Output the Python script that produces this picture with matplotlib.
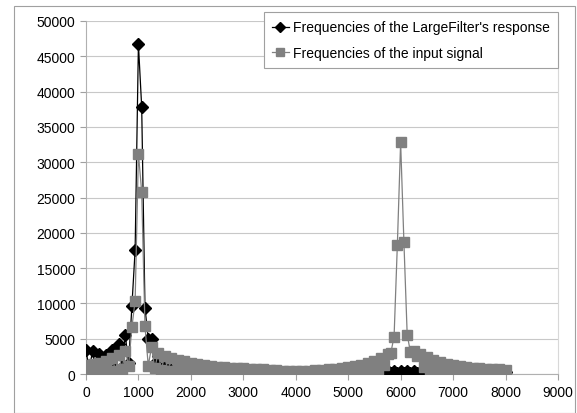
import numpy as np
import matplotlib
matplotlib.use("Agg")
import matplotlib.pyplot as plt
from matplotlib.patches import Rectangle

plt.rcParams["font.family"] = ["Liberation Sans", "DejaVu Sans"]

# FFT bins, 62.5 Hz apart (0 .. 8000 Hz)
freqs = np.arange(0, 8000.1, 62.5)

# magnitude of the LargeFilter's response
response = [
    3400, 600, 3300, 500, 2900, 500, 2700, 600, 3400, 800,
    4300, 1000, 5500, 1500, 9600, 17600, 46700, 37800, 9400, 5000,
    5000, 1500, 2500, 500, 1200, 200, 600, 150, 300, 100,
    200, 80, 150, 60, 120, 50, 100, 40, 80, 30,
    60, 30, 50, 20, 40, 20, 40, 20, 40, 20,
    40, 20, 40, 20, 40, 20, 50, 20, 50, 20,
    50, 20, 60, 20, 60, 20, 80, 30, 100, 30,
    120, 30, 150, 40, 180, 50, 200, 60, 250, 60,
    300, 80, 350, 100, 600, 150, 400, 100, 300, 100,
    350, 100, 400, 150, 450, 200, 500, 200, 450, 150,
    400, 100, 250, 80, 200, 60, 500, 60, 150, 50,
    120, 40, 300, 40, 100, 30, 100, 30, 300, 30,
    80, 30, 80, 30, 300, 30, 80, 30, 300,
]

# magnitude of the input signal
signal = [
    1300, 300, 1400, 200, 1600, 300, 1900, 400, 2300, 500,
    2700, 700, 3300, 1200, 6600, 10400, 31200, 25800, 6800, 1200,
    3800, 800, 3000, 600, 2600, 500, 2300, 400, 2000, 350,
    1800, 300, 1600, 250, 1450, 200, 1300, 200, 1150, 150,
    1050, 150, 950, 120, 900, 100, 850, 100, 800, 100,
    750, 100, 700, 100, 650, 100, 600, 100, 550, 100,
    500, 100, 450, 100, 450, 100, 450, 100, 500, 100,
    550, 100, 600, 120, 650, 150, 750, 180, 850, 200,
    950, 250, 1100, 300, 1300, 350, 1550, 400, 1800, 600,
    2300, 1300, 2900, 3000, 5300, 18300, 32800, 18700, 5600, 3100,
    3300, 2500, 2900, 1000, 2400, 400, 2000, 300, 1700, 250,
    1450, 220, 1250, 200, 1100, 180, 1000, 160, 900, 150,
    800, 140, 750, 130, 700, 120, 650, 110, 600,
]

labels = ["Frequencies of the LargeFilter's response",
          "Frequencies of the input signal"]

fig = plt.figure(figsize=(5.77, 4.14), dpi=100)
ax = fig.add_axes([0.149, 0.094, 0.818, 0.853])

ax.plot(freqs, response, color="black", lw=0.9, marker="D", markersize=6.5,
        label=labels[0], zorder=3)
ax.plot(freqs, signal, color="#808080", lw=0.9, marker="s", markersize=7,
        label=labels[1], zorder=4)

ax.set_xlim(0, 9000)
ax.set_ylim(0, 50000)
ax.set_xticks(range(0, 9001, 1000))
ax.set_yticks(range(0, 50001, 5000))
ax.tick_params(labelsize=10, labelcolor="black", length=4, width=0.8,
               color="#a0a0a0")
ax.yaxis.grid(True, color="#c8c8c8", lw=0.8)
ax.set_axisbelow(True)
for side in ["left", "bottom", "right"]:
    ax.spines[side].set_color("#b0b0b0")
    ax.spines[side].set_linewidth(0.8)
ax.spines["right"].set_color("#d8d8d8")
ax.spines["top"].set_visible(False)

leg = ax.legend(loc="upper right", bbox_to_anchor=(1.0, 1.025), fontsize=10,
                fancybox=False, framealpha=1, edgecolor="#a0a0a0",
                borderpad=0.6, handlelength=1.2, handletextpad=0.3,
                labelspacing=0.8, borderaxespad=0, markerscale=0.8)
leg.get_frame().set_linewidth(0.8)

# outer chart border
fig.patches.append(Rectangle((14 / 577, 0.0), 561 / 577, 1 - 7 / 414,
                             transform=fig.transFigure, fill=False,
                             edgecolor="#a0a0a0", lw=0.8))

fig.savefig("out.png", dpi=100)
